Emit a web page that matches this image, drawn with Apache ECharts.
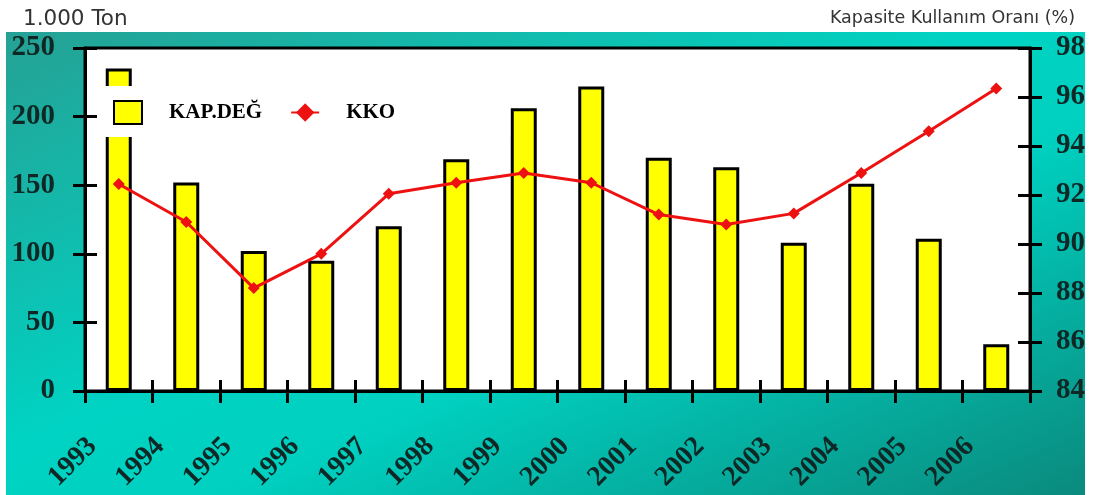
<!DOCTYPE html>
<html>
<head>
<meta charset="utf-8">
<script src="https://cdn.jsdelivr.net/npm/echarts@6/dist/echarts.min.js"></script>
<style>
  html, body { margin: 0; padding: 0; background: #fff; }
  #wrap { position: relative; width: 1095px; height: 495px; }
  #bg { position: absolute; left: 6px; top: 32px; width: 1079px; height: 463px;
        background: linear-gradient(to bottom right, #25a194 0%, #00d3c3 45%, #00d0c0 60%, #0a8a7d 100%); }
  #chart { position: absolute; left: 0; top: 0; width: 1095px; height: 495px; }
</style>
</head>
<body>
<div id="wrap">
  <div id="bg"></div>
  <div id="chart"></div>
</div>
<script>
const years = ['1993','1994','1995','1996','1997','1998','1999','2000','2001','2002','2003','2004','2005','2006'];
const kapDeg = [235, 152, 102, 95, 120, 169, 206, 222, 170, 163, 108, 151, 111, 34];
const kko = [92.45, 90.9, 88.2, 89.6, 92.05, 92.5, 92.9, 92.5, 91.2, 90.8, 91.25, 92.9, 94.6, 96.35];
const leftTicks = { min: 0, max: 250, interval: 50 };
const rightTicks = { min: 84, max: 98, interval: 2 };
const leftUnit = '1.000 Ton';
const rightUnit = 'Kapasite Kullanım Oranı (%)';

const dark = '#0f2725';
const serif = 'Liberation Serif';
const chart = echarts.init(document.getElementById('chart'), null, { renderer: 'canvas' });

function yAx(t, pos, inside) {
  return {
    type: 'value', position: pos, min: t.min, max: t.max, interval: t.interval,
    axisLine: { show: !inside, lineStyle: { color: '#000', width: 3 } },
    axisTick: { show: true, inside: inside, length: 12, lineStyle: { color: '#000', width: 3 } },
    axisLabel: { show: !inside, margin: pos === 'left' ? 30 : 26, color: dark, fontFamily: serif, fontWeight: 'bold', fontSize: 29 },
    splitLine: { show: false }
  };
}

chart.setOption({
  animation: false,
  backgroundColor: 'transparent',
  title: [
    { text: leftUnit, left: 18, top: 3, textStyle: { fontFamily: 'DejaVu Sans', fontWeight: 'normal', fontSize: 21.5, color: '#333' } },
    { text: rightUnit, right: 15, top: 4, textStyle: { fontFamily: 'DejaVu Sans', fontWeight: 'normal', fontSize: 17.5, color: '#333' } }
  ],
  grid: { left: 85, right: 65, top: 48, bottom: 104, containLabel: false, outerBoundsMode: 'none',
          show: true, backgroundColor: '#fff', borderColor: '#000', borderWidth: 3 },
  legend: {
    data: [{ name: 'KAP.DEĞ', icon: 'rect' }, { name: 'KKO' }], left: 103, top: 86, orient: 'horizontal',
    backgroundColor: '#fff', padding: [14, 115, 12, 10], itemGap: 28,
    itemWidth: 28, itemHeight: 23,
    textStyle: { fontFamily: serif, fontWeight: 'bold', fontSize: 21, color: '#000', padding: [0, 0, 0, 22] }
  },
  xAxis: [
    {
      type: 'category', data: years, boundaryGap: true, position: 'bottom',
      axisLine: { lineStyle: { color: '#000', width: 3 } },
      axisTick: { show: true, length: 12, lineStyle: { color: '#000', width: 3 } },
      axisLabel: { rotate: 45, margin: 25, color: dark, fontFamily: serif, fontWeight: 'bold', fontSize: 28, padding: [0, 37, 0, 0] }
    },
    {
      type: 'category', data: years, boundaryGap: true, position: 'bottom',
      axisLine: { show: false },
      axisTick: { show: true, inside: true, length: 11, lineStyle: { color: '#000', width: 3 } },
      axisLabel: { show: false }
    }
  ],
  yAxis: [
    yAx(leftTicks, 'left', false),
    yAx(rightTicks, 'right', false),
    yAx(leftTicks, 'left', true),
    yAx(rightTicks, 'right', true)
  ],
  series: [
    {
      name: 'KAP.DEĞ', type: 'bar', data: kapDeg, xAxisIndex: 0, yAxisIndex: 0,
      barWidth: 26,
      itemStyle: { color: '#ffff00', borderColor: '#000', borderWidth: 3 }
    },
    {
      name: 'KKO', type: 'line', data: kko, xAxisIndex: 0, yAxisIndex: 1,
      symbol: 'diamond', symbolSize: 12, smooth: false,
      lineStyle: { color: '#ee1111', width: 3 },
      itemStyle: { color: '#ee1111' }
    }
  ]
});
</script>
</body>
</html>
